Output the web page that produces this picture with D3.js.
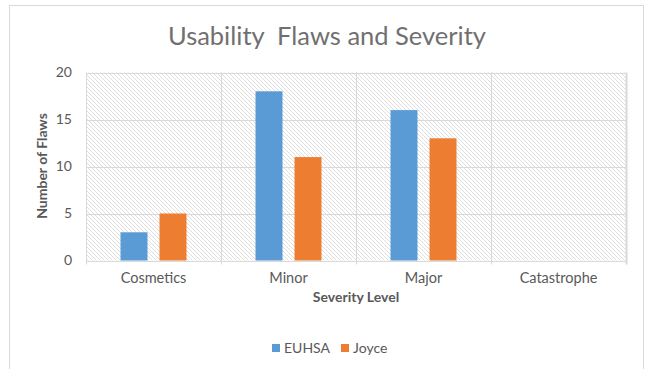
<!DOCTYPE html>
<html>
<head>
<meta charset="utf-8">
<script src="https://cdn.jsdelivr.net/npm/d3@7"></script>
<style>
  html, body { margin: 0; padding: 0; background: #fff; }
  svg { display: block; font-family: Lato, "Open Sans", sans-serif; }
</style>
</head>
<body>
<svg id="chart" width="648" height="369"></svg>
<script>
// Severity levels and flaw counts per evaluator
const categories = ["Cosmetics", "Minor", "Major", "Catastrophe"];
const seriesNames = ["EUHSA", "Joyce"];
const euhsaValues = [3, 18, 16, 0];
const joyceValues = [5, 11, 13, 0];
const yTicks = [0, 5, 10, 15, 20];
const seriesColors = ["#5B9BD5", "#ED7D31"];

const svg = d3.select("#chart");
const plot = { left: 86, right: 626, top: 72.5, bottom: 260.5 };
const textColor = "#595959";
const gridColor = "#d9d9d9";

// Chart frame
svg.append("rect")
  .attr("x", 9.5).attr("y", 5.5)
  .attr("width", 634).attr("height", 380)
  .attr("fill", "#fff").attr("stroke", gridColor).attr("stroke-width", 1);

// Diagonal hatch used for the plot background
const defs = svg.append("defs");
const pat = defs.append("pattern")
  .attr("id", "hatch").attr("patternUnits", "userSpaceOnUse")
  .attr("width", 4).attr("height", 4);
pat.append("rect").attr("width", 4).attr("height", 4).attr("fill", "#fff");
pat.append("path")
  .attr("d", "M-1,-1 L5,5 M-1,3 L1,5 M3,-1 L5,1")
  .attr("stroke", "#dedede").attr("stroke-width", 1);

const x0 = d3.scaleBand().domain(categories).range([plot.left, plot.right]).padding(0);
const bw = x0.bandwidth();
const x1 = d3.scaleBand().domain(seriesNames)
  .range([bw * 0.2556, bw * 0.7444]).paddingInner(0.308).paddingOuter(0);
const y = d3.scaleLinear().domain([0, 20]).range([plot.bottom, plot.top]);

svg.append("rect")
  .attr("x", plot.left).attr("y", plot.top)
  .attr("width", plot.right - plot.left).attr("height", plot.bottom - plot.top)
  .attr("fill", "url(#hatch)");

// Horizontal gridlines
svg.append("g")
  .selectAll("line").data(yTicks.filter(d => d > 0)).join("line")
  .attr("x1", plot.left).attr("x2", plot.right)
  .attr("y1", d => Math.round(y(d)) + 0.5).attr("y2", d => Math.round(y(d)) + 0.5)
  .attr("stroke", gridColor).attr("stroke-width", 1);

// Vertical category separators, extended below the axis as tick marks
const bounds = categories.map(c => x0(c)).concat([plot.right]);
svg.append("g")
  .selectAll("line").data(bounds).join("line")
  .attr("x1", d => Math.round(d) + 0.5).attr("x2", d => Math.round(d) + 0.5)
  .attr("y1", plot.top).attr("y2", plot.bottom + 4)
  .attr("stroke", gridColor).attr("stroke-width", (d, i) => i === bounds.length - 1 ? 2 : 1);

// Bars
const rows = categories.map((c, i) => ({ cat: c, vals: [euhsaValues[i], joyceValues[i]] }));
const groups = svg.append("g").selectAll("g").data(rows).join("g")
  .attr("transform", d => `translate(${x0(d.cat)},0)`);
groups.selectAll("rect")
  .data(d => d.vals.map((v, j) => ({ name: seriesNames[j], v, j })))
  .join("rect")
  .attr("x", d => x1(d.name))
  .attr("width", x1.bandwidth())
  .attr("y", d => y(d.v))
  .attr("height", d => y(0) - y(d.v))
  .attr("fill", d => seriesColors[d.j]);

// Category axis line
svg.append("line")
  .attr("x1", plot.left).attr("x2", plot.right)
  .attr("y1", Math.round(y(0)) + 0.5).attr("y2", Math.round(y(0)) + 0.5)
  .attr("stroke", gridColor).attr("stroke-width", 1);

// Value axis labels
const yAxis = d3.axisLeft(y).tickValues(yTicks).tickSize(0).tickPadding(0);
const yg = svg.append("g").attr("transform", `translate(${plot.left - 14},0)`).call(yAxis);
yg.select(".domain").remove();
yg.selectAll("text")
  .attr("fill", textColor).style("font-size", "14px").style("font-family", "Lato, sans-serif");

// Category labels
const xAxis = d3.axisBottom(x0).tickSize(0).tickPadding(0);
const xg = svg.append("g").attr("transform", `translate(0,${plot.bottom + 12})`).call(xAxis);
xg.select(".domain").remove();
xg.selectAll("text")
  .attr("fill", textColor).style("font-size", "14.5px").style("font-family", "Lato, sans-serif");

// Title
svg.append("text")
  .attr("x", 327).attr("y", 45)
  .attr("text-anchor", "middle")
  .attr("fill", "#707070")
  .style("font-size", "25.5px")
  .style("white-space", "pre")
  .text("Usability  Flaws and Severity");

// Axis titles
svg.append("text")
  .attr("x", 356).attr("y", 302)
  .attr("text-anchor", "middle").attr("fill", textColor)
  .style("font-size", "14px").style("font-weight", "bold")
  .text("Severity Level");

svg.append("text")
  .attr("transform", `translate(47,166) rotate(-90)`)
  .attr("text-anchor", "middle").attr("fill", textColor)
  .style("font-size", "14px").style("font-weight", "bold")
  .text("Number of Flaws");

// Legend
const legendItems = [
  { name: seriesNames[0], color: seriesColors[0], x: 272 },
  { name: seriesNames[1], color: seriesColors[1], x: 341 }
];
const lg = svg.append("g").selectAll("g").data(legendItems).join("g")
  .attr("transform", d => `translate(${d.x},344)`);
lg.append("rect").attr("width", 8).attr("height", 8).attr("fill", d => d.color);
lg.append("text").attr("x", 12).attr("y", 9)
  .attr("fill", textColor).style("font-size", "14px")
  .text(d => d.name);
</script>
</body>
</html>
